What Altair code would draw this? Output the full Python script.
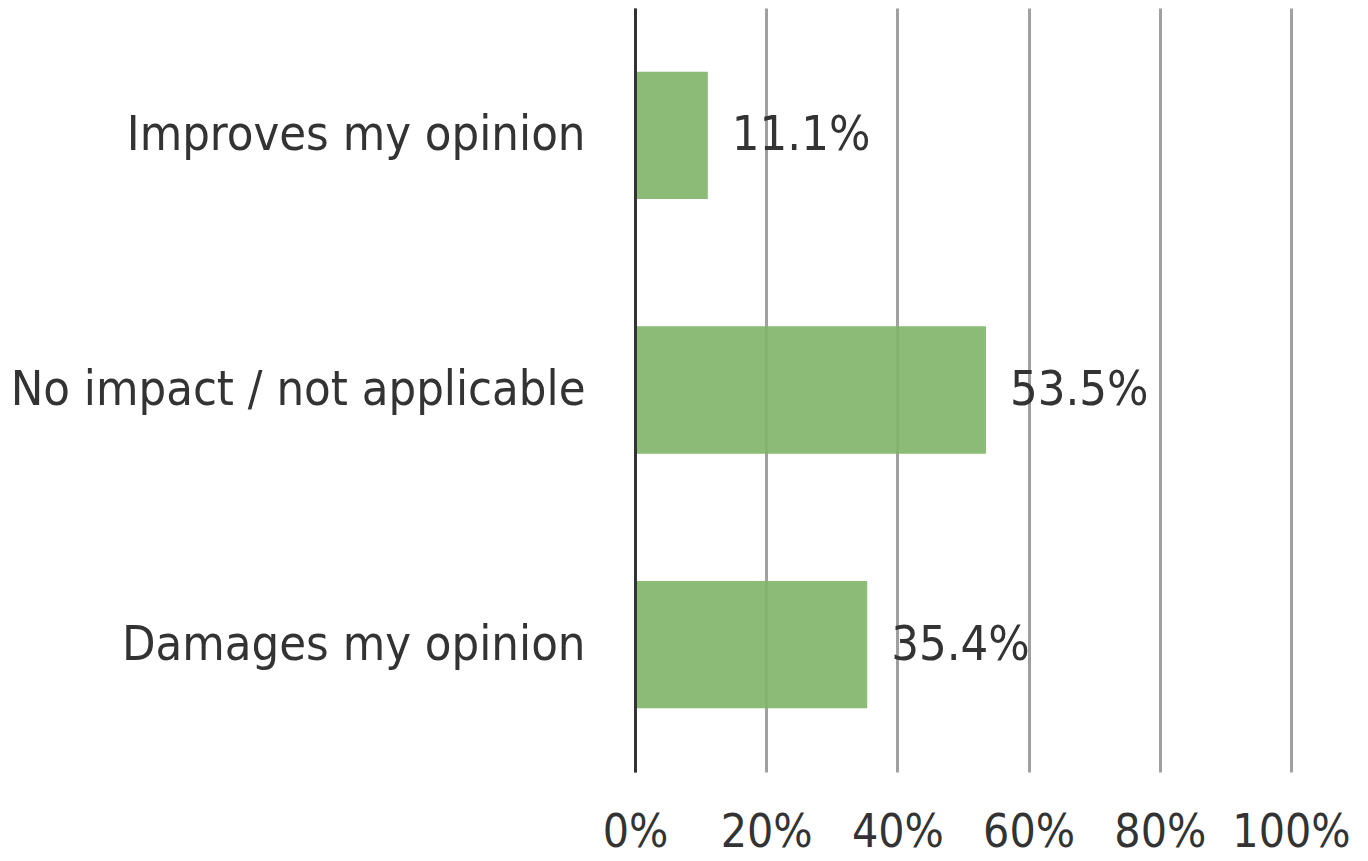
import altair as alt
import pandas as pd

categories = ["Improves my opinion", "No impact / not applicable", "Damages my opinion"]
values = [0.111, 0.535, 0.354]
labels = ["11.1%", "53.5%", "35.4%"]

df = pd.DataFrame({"cat": categories, "val": values, "lab": labels})

FONT = "DejaVu Sans Condensed, DejaVu Sans"
TXT = "#333333"
FS = 48.5

y_enc = alt.Y("cat:N", sort=categories, title=None,
              scale=alt.Scale(paddingInner=0.5, paddingOuter=0.25),
              axis=alt.Axis(labelFontSize=FS, labelFont=FONT, labelColor=TXT,
                            labelPadding=50, ticks=False, domain=True,
                            domainColor="#333333", domainWidth=3, zindex=1,
                            labelLimit=800))
x_enc = alt.X("val:Q", title=None,
              scale=alt.Scale(domain=[0, 1], nice=False),
              axis=alt.Axis(format=".0%", values=[0, 0.2, 0.4, 0.6, 0.8, 1.0],
                            labelFontSize=46, labelFont=FONT, labelColor=TXT,
                            labelPadding=38, ticks=False, domain=False,
                            grid=True, gridColor="#A0A0A0", gridWidth=3,
                            labelFlush=False))

bars = alt.Chart(df).mark_bar(color="#80B46A", opacity=0.91).encode(x=x_enc, y=y_enc)
text = alt.Chart(df).mark_text(align="left", baseline="middle", dx=24,
                               fontSize=FS, font=FONT, color=TXT).encode(
    x="val:Q", y=alt.Y("cat:N", sort=categories), text="lab:N")

chart = (bars + text).properties(
    width=656, height=764,
    padding={"left": 627, "top": 0, "right": 60, "bottom": 89},
    autosize=alt.AutoSizeParams(type="none"),
).configure_view(stroke=None)

chart.save("out.html", embed_options={"renderer": "svg", "actions": False})
